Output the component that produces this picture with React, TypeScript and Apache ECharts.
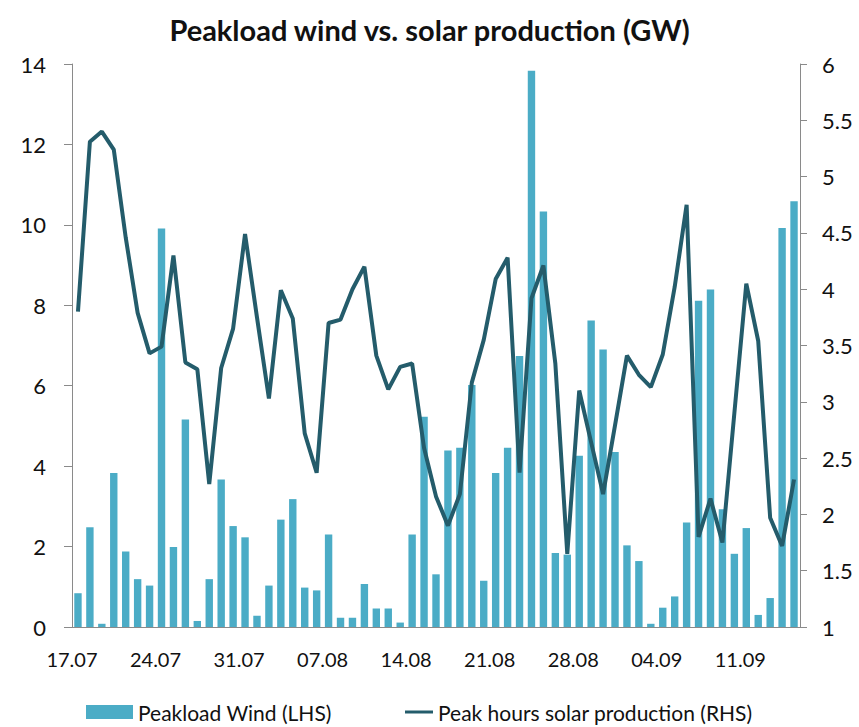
import React, { useEffect, useRef } from "react";
import * as echarts from "echarts";

const dates = [
  "17.07","18.07","19.07","20.07","21.07","22.07","23.07",
  "24.07","25.07","26.07","27.07","28.07","29.07","30.07",
  "31.07","01.08","02.08","03.08","04.08","05.08","06.08",
  "07.08","08.08","09.08","10.08","11.08","12.08","13.08",
  "14.08","15.08","16.08","17.08","18.08","19.08","20.08",
  "21.08","22.08","23.08","24.08","25.08","26.08","27.08",
  "28.08","29.08","30.08","31.08","01.09","02.09","03.09",
  "04.09","05.09","06.09","07.09","08.09","09.09","10.09",
  "11.09","12.09","13.09","14.09","15.09",
];

const windGW = [
  0.84, 2.48, 0.08, 3.83, 1.88, 1.19, 1.03, 9.91, 1.99, 5.16, 0.15, 1.19, 3.67, 2.51,
  2.23, 0.28, 1.03, 2.67, 3.18, 0.98, 0.91, 2.3, 0.23, 0.23, 1.07, 0.46, 0.46, 0.11,
  2.3, 5.23, 1.31, 4.39, 4.46, 6.02, 1.15, 3.83, 4.46, 6.74, 13.83, 10.33, 1.84, 1.8,
  4.26, 7.62, 6.9, 4.35, 2.03, 1.64, 0.08, 0.48, 0.76, 2.6, 8.11, 8.39, 2.93, 1.82,
  2.46, 0.3, 0.72, 9.92, 10.59,
];

const solarGW = [
  3.8, 5.31, 5.4, 5.24, 4.46, 3.79, 3.43, 3.49, 4.3, 3.35, 3.29, 2.27, 3.3, 3.65,
  4.49, 3.75, 3.03, 3.99, 3.74, 2.72, 2.37, 3.7, 3.73, 4.0, 4.2, 3.41, 3.11, 3.31,
  3.34, 2.59, 2.16, 1.9, 2.18, 3.17, 3.55, 4.09, 4.28, 2.37, 3.92, 4.21, 3.34, 1.65,
  3.1, 2.64, 2.18, 2.79, 3.41, 3.24, 3.13, 3.42, 4.02, 4.75, 1.8, 2.14, 1.75, 2.9,
  4.05, 3.54, 1.97, 1.72, 2.31,
];

const windName = "Peakload Wind (LHS)";
const solarName = "Peak hours solar production (RHS)";
const titleText = "Peakload wind vs. solar production (GW)";

const FONT = "Lato, 'Open Sans', sans-serif";
const AXIS_GRAY = "#8a8a8a";

export default function App() {
  const ref = useRef<HTMLDivElement>(null);

  useEffect(() => {
    if (!ref.current) return;
    const chart = echarts.init(ref.current, undefined, { renderer: "svg" });
    chart.setOption({
      animation: false,
      backgroundColor: "#ffffff",
      title: {
        text: titleText,
        left: "center",
        top: 10,
        padding: [5, 5, 5, 21],
        textStyle: { fontFamily: FONT, fontSize: 29, fontWeight: "bold", color: "#111" },
      },
      legend: [
        {
          data: [{ name: windName, icon: "rect" }],
          left: 86,
          top: 701,
          padding: 0,
          itemWidth: 47,
          itemHeight: 14,
          selectedMode: false,
          textStyle: { fontFamily: FONT, fontSize: 21, lineHeight: 22, color: "#111" },
        },
        {
          data: [{ name: solarName, icon: "rect" }],
          left: 405,
          top: 701,
          padding: 0,
          itemWidth: 28,
          itemHeight: 3,
          selectedMode: false,
          textStyle: { fontFamily: FONT, fontSize: 21, lineHeight: 22, color: "#111" },
        },
      ],
      grid: { left: 72, right: 59, top: 64, bottom: 100, containLabel: false },
      xAxis: {
        type: "category",
        data: dates,
        boundaryGap: true,
        axisLine: { lineStyle: { color: AXIS_GRAY, width: 1 } },
        axisTick: { interval: 6, length: 6, lineStyle: { color: AXIS_GRAY } },
        axisLabel: {
          interval: 6,
          margin: 22,
          padding: [0, 12, 0, 0],
          fontFamily: FONT,
          fontSize: 20,
          color: "#111",
        },
      },
      yAxis: [
        {
          type: "value",
          min: 0,
          max: 14,
          interval: 2,
          position: "left",
          axisLine: { show: true, lineStyle: { color: AXIS_GRAY } },
          axisTick: { show: true, length: 8, lineStyle: { color: AXIS_GRAY } },
          splitLine: { show: false },
          axisLabel: { margin: 26, fontFamily: FONT, fontSize: 22, color: "#111" },
        },
        {
          type: "value",
          min: 1,
          max: 6,
          interval: 0.5,
          position: "right",
          axisLine: { show: true, lineStyle: { color: AXIS_GRAY } },
          axisTick: { show: true, length: 7, lineStyle: { color: AXIS_GRAY } },
          splitLine: { show: false },
          axisLabel: { margin: 22, fontFamily: FONT, fontSize: 22, color: "#111" },
        },
      ],
      series: [
        {
          name: windName,
          type: "bar",
          yAxisIndex: 0,
          data: windGW,
          barCategoryGap: "38%",
          itemStyle: { color: "#4BACC6" },
        },
        {
          name: solarName,
          type: "line",
          yAxisIndex: 1,
          data: solarGW,
          symbol: "none",
          lineStyle: { color: "#245C6B", width: 4 },
          itemStyle: { color: "#245C6B" },
        },
      ],
    });
    return () => chart.dispose();
  }, []);

  return (
    <div
      ref={ref}
      style={{ position: "fixed", left: 0, top: 0, width: 859, height: 727, background: "#fff" }}
    />
  );
}
